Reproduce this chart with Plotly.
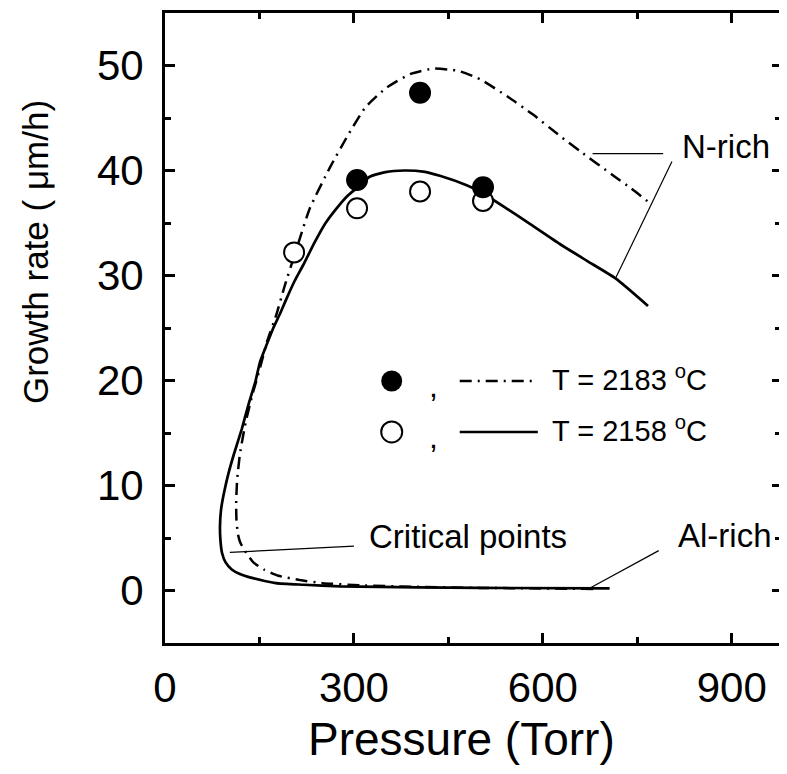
import plotly.graph_objects as go

# model curve, T = 2183 C (dash-dot), traced from the Al-rich end round the critical point
p_2183 = [680, 500, 400, 310, 250, 214, 180, 157, 140, 129, 120, 116, 113.5, 113, 114.5,
          119, 128, 139, 150, 162, 177, 190, 206, 230, 262, 288, 318, 352, 390, 426,
          465, 500, 545, 585, 627, 660, 710, 740, 772]
g_2183 = [0.15, 0.25, 0.35, 0.5, 0.7, 1.0, 1.4, 2.0, 2.7, 3.6, 4.5, 5.3, 6.7, 8.3, 10.5,
          13.0, 16.0, 18.7, 21.0, 23.7, 26.3, 29.0, 32.0, 36.4, 40.3, 43.1, 46.0, 47.9, 49.2, 49.7,
          49.5, 48.7, 47.0, 45.3, 43.3, 41.8, 39.6, 38.3, 36.8]

# model curve, T = 2158 C (solid)
p_2158 = [706, 500, 400, 278, 220, 176, 138, 118, 106, 96, 90.5, 88, 87.3, 89, 93.7,
          101, 109.5, 122, 133, 144, 151, 162, 172, 183, 193, 206, 219.5, 238, 255, 272.5,
          290, 306, 325, 350, 380, 410, 436.5, 479, 500, 542, 580, 627, 670, 716, 767]
g_2158 = [0.2, 0.25, 0.3, 0.4, 0.55, 0.7, 1.2, 1.6, 2.0, 2.7, 3.6, 4.8, 6.1, 7.7, 9.3,
          11.2, 13.0, 15.4, 17.8, 20.0, 21.8, 23.5, 25.0, 26.4, 27.8, 29.5, 31.0, 33.2, 35.0, 36.4,
          37.6, 38.4, 39.4, 39.85, 40.0, 39.9, 39.5, 38.6, 38.0, 36.4, 34.9, 33.0, 31.4, 29.7, 27.1]

# measured growth rates
p_filled = [305, 405, 505]
g_filled = [39.1, 47.4, 38.4]
p_open = [205, 305, 405, 505]
g_open = [32.2, 36.4, 38.0, 37.1]

x_ticks = [0, 300, 600, 900]
y_ticks = [0, 10, 20, 30, 40, 50]

FONT = "Liberation Sans, Arial, sans-serif"
DASHDOT = "12px,6px,2px,6px"

fig = go.Figure()

fig.add_trace(go.Scatter(x=p_2183, y=g_2183, mode="lines",
                         line=dict(color="black", width=2.5, dash=DASHDOT,
                                   shape="spline", smoothing=0.5)))
fig.add_trace(go.Scatter(x=p_2158, y=g_2158, mode="lines",
                         line=dict(color="black", width=2.7, shape="spline", smoothing=0.5)))
fig.add_trace(go.Scatter(x=p_open, y=g_open, mode="markers",
                         marker=dict(size=20, color="white", symbol="circle",
                                     line=dict(color="black", width=2))))
fig.add_trace(go.Scatter(x=p_filled, y=g_filled, mode="markers",
                         marker=dict(size=22, color="black", symbol="circle")))
# dummy trace so the right-hand tick axis is drawn
fig.add_trace(go.Scatter(x=[None], y=[None], yaxis="y2"))

axis_common = dict(showgrid=False, zeroline=False, ticks="inside", tickwidth=2.5,
                   tickcolor="black", automargin=False,
                   tickfont=dict(family=FONT, size=42, color="black"))

# page body keeps an 8px margin, so the figure is 16px smaller than the window
fig.update_layout(
    width=771, height=758,
    margin=dict(l=157, r=0, t=5, b=123, autoexpand=False),
    paper_bgcolor="white", plot_bgcolor="white",
    showlegend=False,
    xaxis=dict(range=[0, 975], tickvals=x_ticks, showline=True, linewidth=3, linecolor="black",
               mirror="ticks", ticklen=10, ticklabelstandoff=6,
               minor=dict(tickvals=[150, 450, 750], ticks="inside", ticklen=6, tickwidth=2.5,
                          tickcolor="black"),
               **axis_common),
    yaxis=dict(range=[-5, 55], tickvals=y_ticks, showline=True, linewidth=3, linecolor="black",
               ticklen=10, ticklabelstandoff=10,
               minor=dict(dtick=5, ticks="inside", ticklen=6, tickwidth=2.5, tickcolor="black"),
               **axis_common),
    yaxis2=dict(range=[-5, 55], overlaying="y", side="right", tickvals=y_ticks,
                showticklabels=False, showline=False, ticklen=7,
                minor=dict(dtick=5, ticks="inside", ticklen=4, tickwidth=2.5, tickcolor="black"),
                **axis_common),
)

# axis titles
fig.add_annotation(text="Pressure (Torr)", xref="paper", yref="paper", x=0.4837, y=-0.1945,
                   showarrow=False, xanchor="center", yanchor="bottom", borderpad=0,
                   font=dict(family=FONT, size=46, color="black"))
fig.add_annotation(text="Growth rate ( \u03bcm/h)", xref="paper", yref="paper", x=-0.2117, y=0.6206,
                   textangle=-90, showarrow=False, xanchor="center", yanchor="middle",
                   font=dict(family=FONT, size=35, color="black"))

# labels with pointer lines
lab_font = dict(family=FONT, size=33, color="black")
fig.add_annotation(text="N-rich", x=891, y=42.3, showarrow=False, font=lab_font)
fig.add_annotation(text="Critical points", x=481, y=5.1, showarrow=False, font=lab_font)
fig.add_annotation(text="Al-rich", x=890, y=5.2, showarrow=False, font=lab_font)

pointer = dict(type="line", xref="x", yref="y", line=dict(color="black", width=1.2))
fig.add_shape(x0=679, y0=41.6, x1=791, y1=41.6, **pointer)
fig.add_shape(x0=805, y0=40.85, x1=716, y1=29.8, **pointer)
fig.add_shape(x0=300, y0=4.23, x1=103, y1=3.63, **pointer)
fig.add_shape(x0=784, y0=3.8, x1=675, y1=0.23, **pointer)

# hand-made key
leg_font = dict(family=FONT, size=29, color="black")
rows = [(19.95, "black", 0, DASHDOT, "T = 2183 <sup>o</sup>C", 586),
        (15.1, "white", 2, "solid", "T = 2158 <sup>o</sup>C", 592)]
for yy, fill, lw, dash, label, x_end in rows:
    fig.add_shape(type="circle", xref="x", yref="y", xsizemode="pixel", ysizemode="pixel",
                  xanchor=360, yanchor=yy, x0=-10.5, x1=10.5, y0=-10.5, y1=10.5,
                  fillcolor=fill, line=dict(color="black", width=lw))
    fig.add_annotation(text=",", x=427, y=yy - 0.5, showarrow=False,
                       font=dict(family=FONT, size=32, color="black"))
    fig.add_shape(type="line", xref="x", yref="y", x0=468, x1=x_end, y0=yy, y1=yy,
                  line=dict(color="black", width=2.5, dash=dash))
    fig.add_annotation(text=label, x=612, y=yy + 0.3, xanchor="left", showarrow=False,
                       font=leg_font)

fig.write_html("out.html")
